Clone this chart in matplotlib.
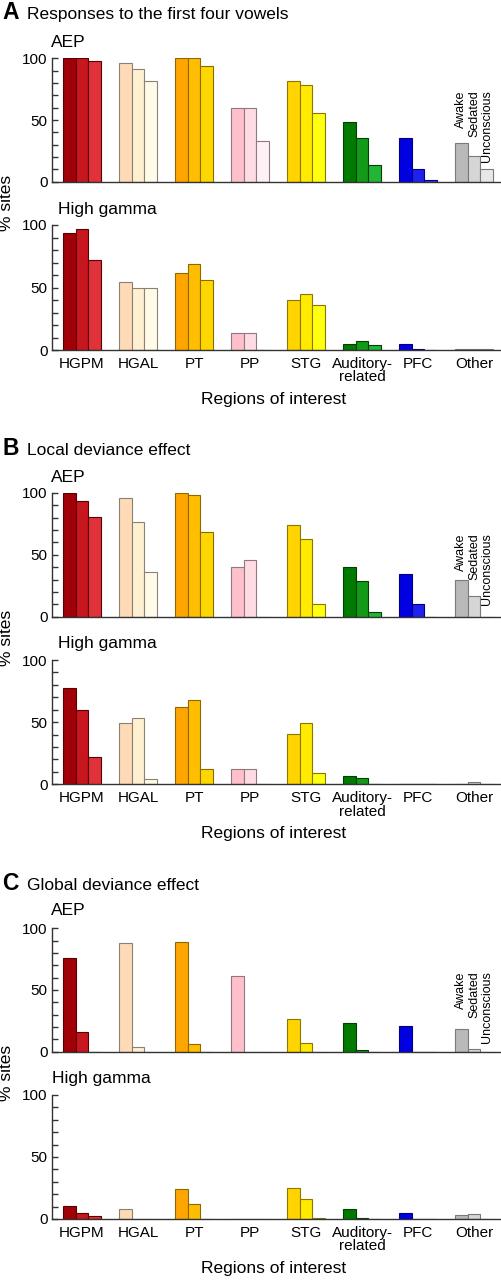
#!/usr/bin/env python3
"""
Percentage of responsive sites per region of interest, across three states
(awake, sedated, unconscious), for AEP and high gamma responses.
"""

import matplotlib
matplotlib.use('Agg')
import matplotlib.pyplot as plt
import numpy as np

plt.rcParams['font.family'] = ['Liberation Sans', 'DejaVu Sans']

regions = ['HGPM', 'HGAL', 'PT', 'PP', 'STG', 'Auditory-\nrelated', 'PFC', 'Other']
states = ['Awake', 'Sedated', 'Unconscious']

# A: responses to the first four vowels
resp_aep_awake = [100, 96.5, 100, 60, 81.4, 48.1, 35.5, 31.6]
resp_aep_sedated = [100, 91.4, 100, 60, 78.1, 35.4, 10, 20.8]
resp_aep_uncon = [97.5, 82, 94, 33, 55.7, 13.5, 1.4, 10]
resp_hg_awake = [93.6, 54.4, 62, 13.6, 40, 4.8, 4.8, 1]
resp_hg_sedated = [96.8, 50, 68.5, 13.6, 45, 7, 0.5, 1]
resp_hg_uncon = [71.7, 50, 56.3, 0, 35.7, 3.7, 0, 1]

# B: local deviance effect
local_aep_awake = [100, 96, 100, 40, 74, 40, 34.7, 29.3]
local_aep_sedated = [93.5, 76.4, 98.4, 46, 62.4, 28.8, 10.5, 17]
local_aep_uncon = [80.4, 36.3, 68.5, 0, 10.5, 4, 0, 0]
local_hg_awake = [77.2, 49.6, 62.2, 12.6, 40.5, 6.4, 0, 0]
local_hg_sedated = [60, 53.6, 67.8, 12.6, 49.6, 4.8, 0, 1.5]
local_hg_uncon = [22, 4.3, 12, 0, 9.4, 0.5, 0, 0]

# C: global deviance effect
global_aep_awake = [76, 87.8, 89, 61, 26.6, 22.8, 20.9, 18]
global_aep_sedated = [15.7, 4, 6, 0, 7, 1, 0, 2]
global_aep_uncon = [0, 0, 0, 0, 0, 0, 0, 0]
global_hg_awake = [10.8, 8.3, 24.5, 0, 24.7, 8, 4.6, 2.9]
global_hg_sedated = [4.8, 0, 12, 0, 16.1, 1, 0, 3.8]
global_hg_uncon = [2.4, 0, 0, 0, 0.5, 0, 0, 0]

# fill colours per region (awake, sedated, unconscious) and edge colour
fills = [
    ['#a00008', '#c8161e', '#e0323a'],
    ['#ffdab6', '#fff0d2', '#fffbe8'],
    ['#ffa500', '#ffbe00', '#ffd700'],
    ['#ffc0cc', '#ffdce4', '#fff0f6'],
    ['#ffd400', '#ffea00', '#ffff10'],
    ['#007a00', '#139a18', '#22b635'],
    ['#0000e0', '#2020f0', '#3a3aff'],
    ['#b9b9b9', '#d6d6d6', '#e8e8e8'],
]
edges = ['#5a0000', '#8c8070', '#8c6a00', '#907880', '#8c7800',
         '#004000', '#000080', '#7a7a7a']

W, H = 501, 1280
fig = plt.figure(figsize=(W / 100, H / 100), dpi=100)


def fy(y):
    return 1 - y / H


def make_axes(top, bottom):
    return fig.add_axes([52 / W, fy(bottom), 448 / W, (bottom - top) / H])


def draw_bars(ax, values, show_xlabels, legend_top=None):
    x = np.arange(len(regions))
    bw = 0.227
    for k, vals in enumerate(values):
        for i, v in enumerate(vals):
            ax.bar(x[i] + (k - 1) * bw, v, width=bw, color=fills[i][k],
                   edgecolor=edges[i], linewidth=0.8)
    ax.set_xlim(-0.536, 7.464)
    ax.set_ylim(0, 100)
    ax.spines['top'].set_visible(False)
    ax.spines['right'].set_visible(False)
    for s in ['left', 'bottom']:
        ax.spines[s].set_color('#333333')
        ax.spines[s].set_linewidth(1.0)
    ax.set_yticks([0, 50, 100])
    ax.set_yticks(np.arange(0, 101, 10), minor=True)
    ax.tick_params(axis='y', which='both', direction='in', length=4,
                   width=1, color='#333333', labelsize=11, pad=3)
    ax.set_xticks(x)
    if show_xlabels:
        ax.set_xticklabels(regions, fontsize=11, linespacing=0.95)
    else:
        ax.set_xticklabels([])
    ax.tick_params(axis='x', length=0, pad=5)
    if legend_top is not None:
        for k, name in enumerate(states):
            ax.text(x[-1] + (k - 1) * bw, legend_top, name, rotation=90,
                    ha='center', va='top', fontsize=9)


panels = [
    ('A', 'Responses to the first four vowels', 19,
     (58.3, 181.7), (225, 350), 47, 214, 58, 74,
     [resp_aep_awake, resp_aep_sedated, resp_aep_uncon],
     [resp_hg_awake, resp_hg_sedated, resp_hg_uncon]),
    ('B', 'Local deviance effect', 455,
     (492.7, 616.7), (660, 784.3), 482, 648, 58, 67,
     [local_aep_awake, local_aep_sedated, local_aep_uncon],
     [local_hg_awake, local_hg_sedated, local_hg_uncon]),
    ('C', 'Global deviance effect', 890,
     (928.3, 1051.5), (1095, 1219), 915, 1083, 52, 65,
     [global_aep_awake, global_aep_sedated, global_aep_uncon],
     [global_hg_awake, global_hg_sedated, global_hg_uncon]),
]

for (letter, title, ybase, aep_box, hg_box, aep_lab_y, hg_lab_y, hg_lab_x,
     leg_top, aep_vals, hg_vals) in panels:
    fig.text(2 / W, fy(ybase), letter, fontsize=16.5, fontweight='bold',
             va='baseline', ha='left')
    fig.text(27 / W, fy(ybase), title, fontsize=12.5, va='baseline', ha='left')

    ax1 = make_axes(*aep_box)
    draw_bars(ax1, aep_vals, False, legend_top=leg_top)
    fig.text(51 / W, fy(aep_lab_y), 'AEP', fontsize=12.5, va='baseline', ha='left')

    ax2 = make_axes(*hg_box)
    draw_bars(ax2, hg_vals, True)
    fig.text(hg_lab_x / W, fy(hg_lab_y), 'High gamma', fontsize=12.5,
             va='baseline', ha='left')

    fig.text(7 / W, fy((aep_box[1] + hg_box[0]) / 2), '% sites', rotation=90,
             fontsize=12.5, va='center', ha='center')
    fig.text(274 / W, fy(hg_box[1] + 54), 'Regions of interest', fontsize=12.5,
             va='baseline', ha='center')

fig.savefig('out.png', dpi=100)
